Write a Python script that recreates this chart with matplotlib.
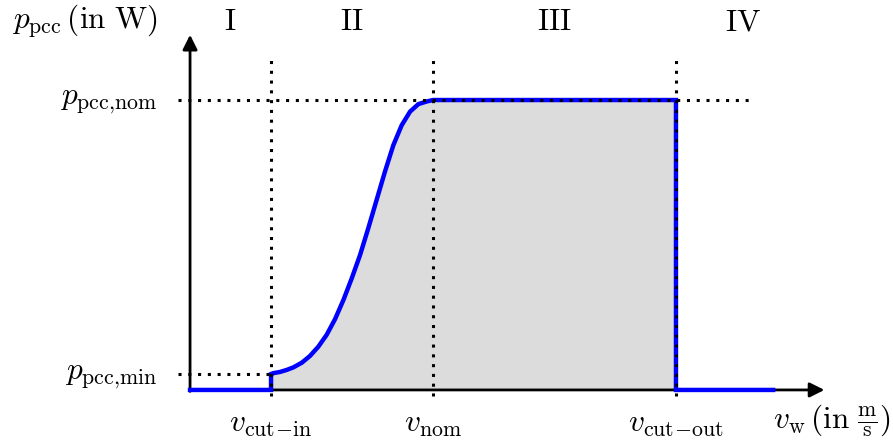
# Wind turbine power curve with the four operating regions

import matplotlib.pyplot as plt

plt.rcParams['mathtext.fontset'] = 'cm'
plt.rcParams['font.family'] = 'serif'

# Characteristic wind speeds (arbitrary units) and power levels (per unit)
v_cut_in = 3.0
v_nom = 9.0
v_cut_out = 18.0
v_end = 21.6
p_min = 0.055
p_nom = 1.0

# Partial-load part of the curve
v_curve = [3.0, 3.09, 3.33, 3.58, 3.83, 4.14, 4.44, 4.75, 5.06, 5.37, 5.68,
           5.99, 6.30, 6.60, 6.91, 7.22, 7.53, 7.84, 8.15, 8.46, 8.77, 9.0]
p_curve = [0.055, 0.058, 0.062, 0.069, 0.078, 0.094, 0.117, 0.149, 0.190,
           0.244, 0.310, 0.385, 0.466, 0.557, 0.655, 0.753, 0.844, 0.913,
           0.960, 0.986, 0.995, 1.0]

region_labels = ["I", "II", "III", "IV"]
region_x = [1.5, 6.0, 13.5, 20.5]

v_ticks = [v_cut_in, v_nom, v_cut_out]
v_tick_labels = [r'$v_{\mathrm{cut\!-\!in}}$', r'$v_{\mathrm{nom}}$',
                 r'$v_{\mathrm{cut\!-\!out}}$']

# full power curve
v_all = [0, v_cut_in] + v_curve + [v_cut_out, v_cut_out, v_end]
p_all = [0, 0] + p_curve + [p_nom, 0, 0]

fig = plt.figure(figsize=(8.93, 4.43), dpi=100)
ax = fig.add_axes([0, 0, 1, 1])
ax.set_xlim(-7.04, 26.04)
ax.set_ylim(-0.183, 1.345)
ax.axis('off')

# shaded operating area
v_fill = v_curve + [v_cut_out, v_cut_out]
p_fill = p_curve + [p_nom, 0]
ax.fill_between([v_cut_in] + v_fill, [0] + p_fill, 0, color='#dcdcdc', lw=0, zorder=1)

# axes with arrows
arrow = dict(arrowstyle='-|>', lw=2, color='k', mutation_scale=22, shrinkA=0, shrinkB=0)
ax.annotate('', xy=(23.5, 0), xytext=(0, 0), arrowprops=arrow, zorder=2)
ax.annotate('', xy=(0, 1.225), xytext=(0, -0.005), arrowprops=arrow, zorder=2)

ax.plot(v_all, p_all, color='blue', lw=3.2, solid_joinstyle='miter', zorder=3)

# dotted guide lines
dot = dict(color='k', lw=2.2, linestyle=(0, (1, 2.2)), dash_capstyle='butt', zorder=4)
for v in v_ticks:
    ax.plot([v, v], [-0.02, 1.155], **dot)
ax.plot([-0.45, 20.8], [p_nom, p_nom], **dot)
ax.plot([-0.45, v_cut_in], [p_min, p_min], **dot)

fs = 22.5
for lab, x in zip(region_labels, region_x):
    ax.text(x, 1.27, r'$\mathrm{%s}$' % lab, ha='center', va='center', fontsize=fs)

for v, lab in zip(v_ticks, v_tick_labels):
    ax.text(v, -0.115, lab, ha='center', va='center', fontsize=fs)

ax.text(-1.2, p_nom, r'$p_{\mathrm{pcc{,}nom}}$', ha='right', va='center', fontsize=fs)
ax.text(-1.2, p_min - 0.005, r'$p_{\mathrm{pcc{,}min}}$', ha='right', va='center', fontsize=fs)
ax.text(-6.6, 1.27, r'$p_{\mathrm{pcc}}\,(\mathrm{in\ W})$', ha='left', va='center', fontsize=fs)
ax.text(21.6, -0.105, r'$v_{\mathrm{w}}\,(\mathrm{in}\ \frac{\mathrm{m}}{\mathrm{s}})$',
        ha='left', va='center', fontsize=fs)

fig.savefig('out.png', dpi=100)
